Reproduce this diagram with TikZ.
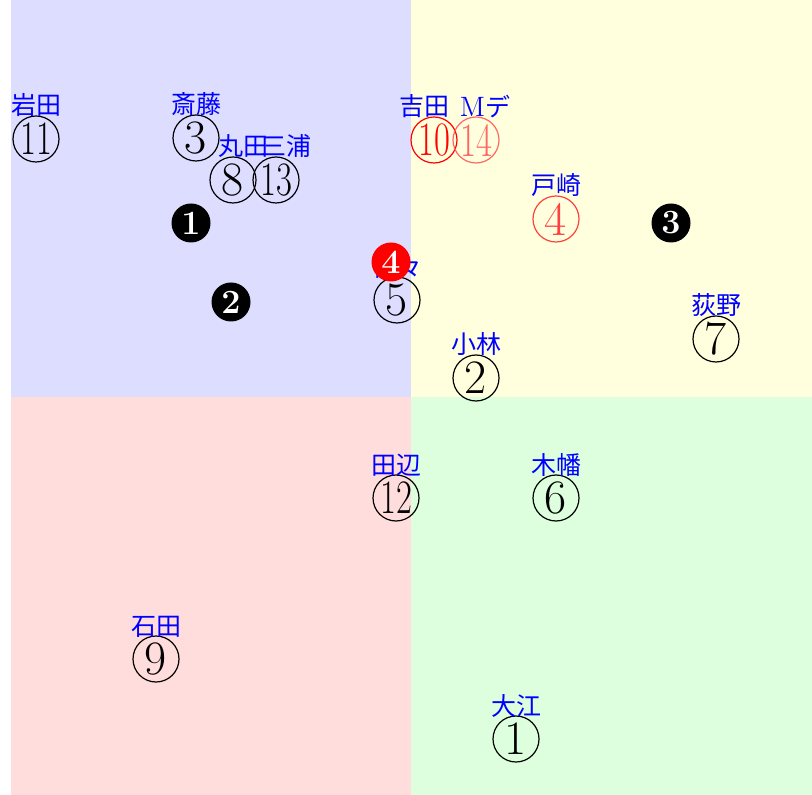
\documentclass[tikz,border=0pt]{standalone}
\usepackage{fontspec}
\usepackage{graphicx}
\newfontfamily\jfont{Noto Sans CJK JP}
\usetikzlibrary{positioning}
\definecolor{ColNW}{RGB}{221,221,255}
\definecolor{ColNE}{RGB}{255,255,221}
\definecolor{ColSW}{RGB}{255,221,221}
\definecolor{ColSE}{RGB}{221,255,221}
\newcommand{\twodig}[1]{\scalebox{0.72}[1]{#1}}

\begin{document}
\begin{tikzpicture}[
  x=0.5pt, y=-0.5pt,
  seat/.style={circle, draw, line width=0.6pt, inner sep=0pt,
    minimum size=23pt, font=\fontsize{24}{24}\selectfont},
  badge/.style={circle, fill=black, text=white, inner sep=0pt,
    minimum size=19.5pt, font=\fontsize{17}{17}\selectfont\bfseries},
  who/.style={text=blue, inner sep=0pt, font=\fontsize{12.5}{12.5}\selectfont\jfont}
]
  \useasboundingbox (0,0) rectangle (812,795);

  % Quadrants
  \fill[ColNW] (11,0)    rectangle (411,397);
  \fill[ColNE] (411,0)   rectangle (812,397);
  \fill[ColSW] (11,397)  rectangle (411,795);
  \fill[ColSE] (411,397) rectangle (812,795);

  % Seats
  \node[seat] (n1)  at (516,739) {1};
  \node[seat] (n2)  at (476,378) {2};
  \node[seat] (n3)  at (196,138) {3};
  \node[seat, draw=red!75, text=red!75] (n4) at (556,219) {4};
  \node[seat] (n5)  at (397,300) {5};
  \node[seat] (n6)  at (556,498) {6};
  \node[seat] (n7)  at (716,339) {7};
  \node[seat] (n8)  at (233,180) {8};
  \node[seat] (n9)  at (156,659) {9};
  \node[seat, draw=red, text=red] (n10) at (434,140) {\twodig{10}};
  \node[seat] (n11) at (36,139)  {\twodig{11}};
  \node[seat] (n12) at (396,498) {\twodig{12}};
  \node[seat] (n13) at (276,180) {\twodig{13}};
  \node[seat, draw=red!60, text=red!60] (n14) at (476,140) {\twodig{14}};

  % Names
  \node[who, above=-1pt of n1]  {大江};
  \node[who, above=-1pt of n2]  {小林};
  \node[who, above=-1pt of n3]  {斎藤};
  \node[who, above=-1pt of n4]  {戸崎};
  \node[who, above=-1pt of n5]  {佐々};
  \node[who, above=-1pt of n6]  {木幡};
  \node[who, above=-1pt of n7]  {荻野};
  \node[who, above=-1pt of n8, xshift=5pt]   {丸田};
  \node[who, above=-1pt of n9]  {石田};
  \node[who, above=-1pt of n10, xshift=-5pt] {吉田};
  \node[who, above=-1pt of n11] {岩田};
  \node[who, above=-1pt of n12] {田辺};
  \node[who, above=-1pt of n13, xshift=5pt]  {三浦};
  \node[who, above=-1pt of n14, xshift=4.5pt]
    {{\rmfamily\fontsize{14}{14}\selectfont M}\jfont デ};

  % Group badges
  \node[badge] (b1) at (191,223) {1};
  \node[badge] (b2) at (231,302) {2};
  \node[badge] (b3) at (671,223) {3};
  \node[badge, fill=red] (b4) at (391,262) {4};
\end{tikzpicture}
\end{document}
